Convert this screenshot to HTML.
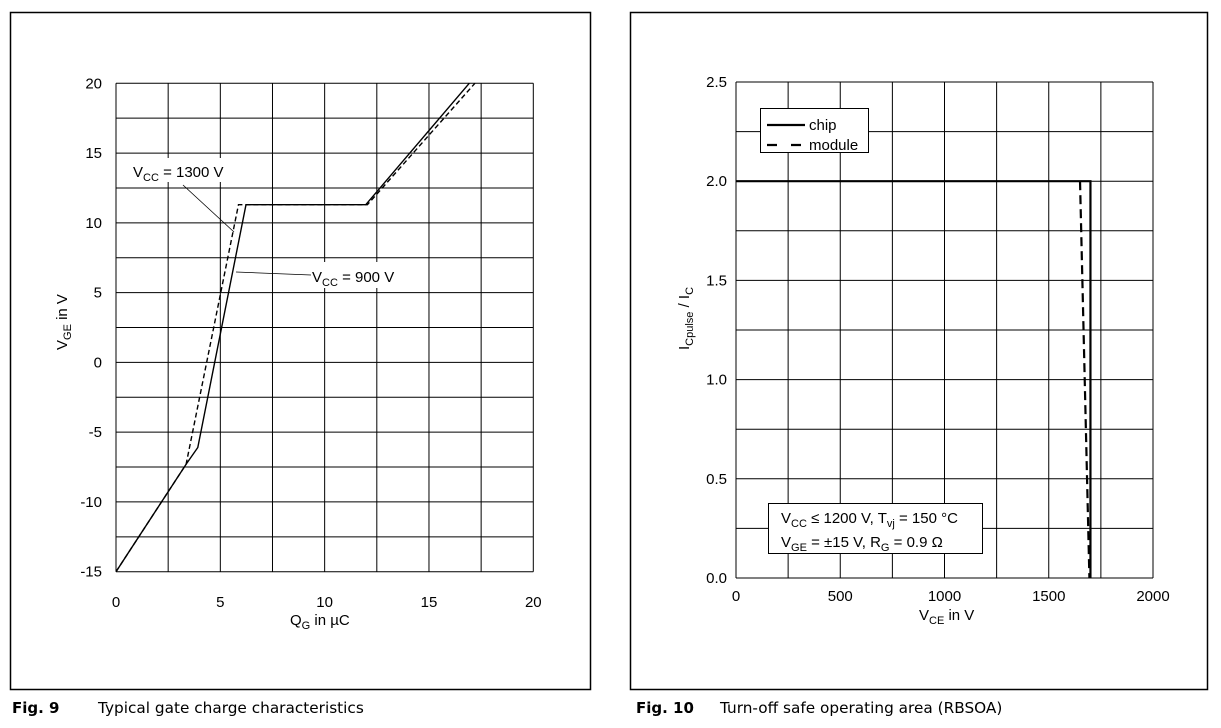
<!DOCTYPE html>
<html><head><meta charset="utf-8"><style>
body{margin:0;background:#fff;width:1221px;height:728px;overflow:hidden;font-family:"Liberation Sans",sans-serif}
svg{position:absolute;left:0;top:0}
</style></head><body>
<svg width="1221" height="728" font-family="Liberation Sans, sans-serif">
<rect x="10.5" y="12.5" width="580" height="677" fill="none" stroke="#000" stroke-width="1.5"/>
<rect x="630.5" y="12.5" width="577" height="677" fill="none" stroke="#000" stroke-width="1.5"/>
<g id="c1"></g>
<g id="c2"></g>
<text x="12" y="713" font-size="15" font-weight="bold" font-family="DejaVu Sans, sans-serif">Fig. 9</text>
<text x="98" y="713" font-size="15.3" font-family="DejaVu Sans, sans-serif">Typical gate charge characteristics</text>
<text x="636" y="713" font-size="15" font-weight="bold" font-family="DejaVu Sans, sans-serif">Fig. 10</text>
<text x="720" y="713" font-size="15.3" font-family="DejaVu Sans, sans-serif">Turn-off safe operating area (RBSOA)</text>
</svg>
<script>
const NS='http://www.w3.org/2000/svg';
// Chart 1 data
const qgTicks=[0,5,10,15,20];
const vgeTicks=[20,15,10,5,0,-5,-10,-15];
const vcc900Q=[0,3.36,3.92,6.23,11.97,16.93];
const vcc900V=[-15,-7.3,-6.1,11.3,11.3,20];
const vcc1300Q=[0,3.36,5.87,12.05,17.2];
const vcc1300V=[-15,-7.3,11.3,11.3,20];
// Chart 2 data
const vceTicks=[0,500,1000,1500,2000];
const iTicks=[0,0.5,1.0,1.5,2.0,2.5];
const chipV=[0,1700,1700];
const chipI=[2,2,0];
const moduleV=[1650,1650,1695];
const moduleI=[2,2,0];

function mk(p,t,a,txt){const e=document.createElementNS(NS,t);for(const k in a)e.setAttribute(k,a[k]);if(txt!=null)e.textContent=txt;p.appendChild(e);return e;}

// Chart 1
const g1=document.getElementById('c1');
const X1=q=>116+q*(417.3/20), Y1=v=>83.3+(20-v)*(488.4/35);
for(let q=0;q<=20;q+=2.5){const l=mk(g1,'line',{x1:X1(q),x2:X1(q),y1:Y1(20),y2:Y1(-15),stroke:'#000','stroke-width':1});
}
for(let v=-15;v<=20;v+=2.5){const l=mk(g1,'line',{x1:X1(0),x2:X1(20),y1:Y1(v),y2:Y1(v),stroke:'#000','stroke-width':1});
}
qgTicks.forEach(q=>{const t=mk(g1,'text',{x:X1(q),y:607,'font-size':15,'text-anchor':'middle'},q);
});
vgeTicks.forEach(v=>{const t=mk(g1,'text',{x:102,y:Y1(v)+5,'font-size':15,'text-anchor':'end'},v);
});
function poly(g,xs,ys,X,Y,dash,w,name){const p=mk(g,'polyline',{points:xs.map((x,i)=>X(x)+','+Y(ys[i])).join(' '),fill:'none',stroke:'#000','stroke-width':w});
if(dash)p.setAttribute('stroke-dasharray',dash);}
poly(g1,vcc900Q,vcc900V,X1,Y1,null,1.4,'vcc-900-line');
poly(g1,vcc1300Q,vcc1300V,X1,Y1,'5,3',1.4,'vcc-1300-line');
mk(g1,'rect',{x:128,y:158,width:104,height:24,fill:'#fff'});
mk(g1,'text',{x:133,y:177,'font-size':15,}).innerHTML='V<tspan font-size="11" dy="4">CC</tspan><tspan dy="-4"> = 1300 V</tspan>';
mk(g1,'line',{x1:183,y1:185,x2:234,y2:232,stroke:'#000','stroke-width':0.8});
mk(g1,'rect',{x:308,y:262,width:96,height:26,fill:'#fff'});
mk(g1,'text',{x:312,y:282,'font-size':15,}).innerHTML='V<tspan font-size="11" dy="4">CC</tspan><tspan dy="-4"> = 900 V</tspan>';
mk(g1,'line',{x1:236,y1:272,x2:311,y2:275,stroke:'#000','stroke-width':0.8});
mk(g1,'text',{x:290,y:625,'font-size':15,}).innerHTML='Q<tspan font-size="11" dy="4">G</tspan><tspan dy="-4">  in µC</tspan>';
mk(g1,'text',{x:0,y:0,'font-size':15,transform:'translate(67,350) rotate(-90)',}).innerHTML='V<tspan font-size="11" dy="4">GE</tspan><tspan dy="-4"> in V</tspan>';

// Chart 2
const g2=document.getElementById('c2');
const X2=v=>736+v*(417/2000), Y2=i=>82+(2.5-i)*(496/2.5);
for(let v=0;v<=2000;v+=250){const l=mk(g2,'line',{x1:X2(v),x2:X2(v),y1:Y2(2.5),y2:Y2(0),stroke:'#000','stroke-width':1});
}
for(let i=0;i<=2.5001;i+=0.25){const l=mk(g2,'line',{x1:X2(0),x2:X2(2000),y1:Y2(i),y2:Y2(i),stroke:'#000','stroke-width':1});
}
vceTicks.forEach(v=>{const t=mk(g2,'text',{x:X2(v),y:601,'font-size':15,'text-anchor':'middle'},v);
});
iTicks.forEach(i=>{const t=mk(g2,'text',{x:727,y:Y2(i)+5,'font-size':15,'text-anchor':'end'},i.toFixed(1));
});
poly(g2,chipV,chipI,X2,Y2,null,2.2,'chip-line');
poly(g2,moduleV,moduleI,X2,Y2,'9,5',2.2,'module-line');
mk(g2,'rect',{x:760.5,y:108.5,width:108,height:44,fill:'#fff',stroke:'#000',});
mk(g2,'line',{x1:767,x2:805,y1:125,y2:125,stroke:'#000','stroke-width':2.2});
mk(g2,'text',{x:809,y:130,'font-size':15,},'chip');
mk(g2,'line',{x1:767,x2:801,y1:145,y2:145,stroke:'#000','stroke-width':2.2,'stroke-dasharray':'10,14'});
mk(g2,'text',{x:809,y:150,'font-size':15,},'module');
mk(g2,'rect',{x:768.5,y:503.5,width:214,height:50,fill:'#fff',stroke:'#000',});
mk(g2,'text',{x:781,y:523,'font-size':15,}).innerHTML='V<tspan font-size="11" dy="4">CC</tspan><tspan dy="-4"> ≤ 1200 V, T</tspan><tspan font-size="11" dy="4">vj</tspan><tspan dy="-4"> = 150 °C</tspan>';
mk(g2,'text',{x:781,y:547,'font-size':15,}).innerHTML='V<tspan font-size="11" dy="4">GE</tspan><tspan dy="-4"> = ±15 V, R</tspan><tspan font-size="11" dy="4">G</tspan><tspan dy="-4"> = 0.9 Ω</tspan>';
mk(g2,'text',{x:919,y:620,'font-size':15,}).innerHTML='V<tspan font-size="11" dy="4">CE</tspan><tspan dy="-4"> in V</tspan>';
mk(g2,'text',{x:0,y:0,'font-size':15,transform:'translate(689,350) rotate(-90)',}).innerHTML='I<tspan font-size="11" dy="4">Cpulse</tspan><tspan dy="-4"> / I</tspan><tspan font-size="11" dy="4">C</tspan>';
</script>
</body></html>
